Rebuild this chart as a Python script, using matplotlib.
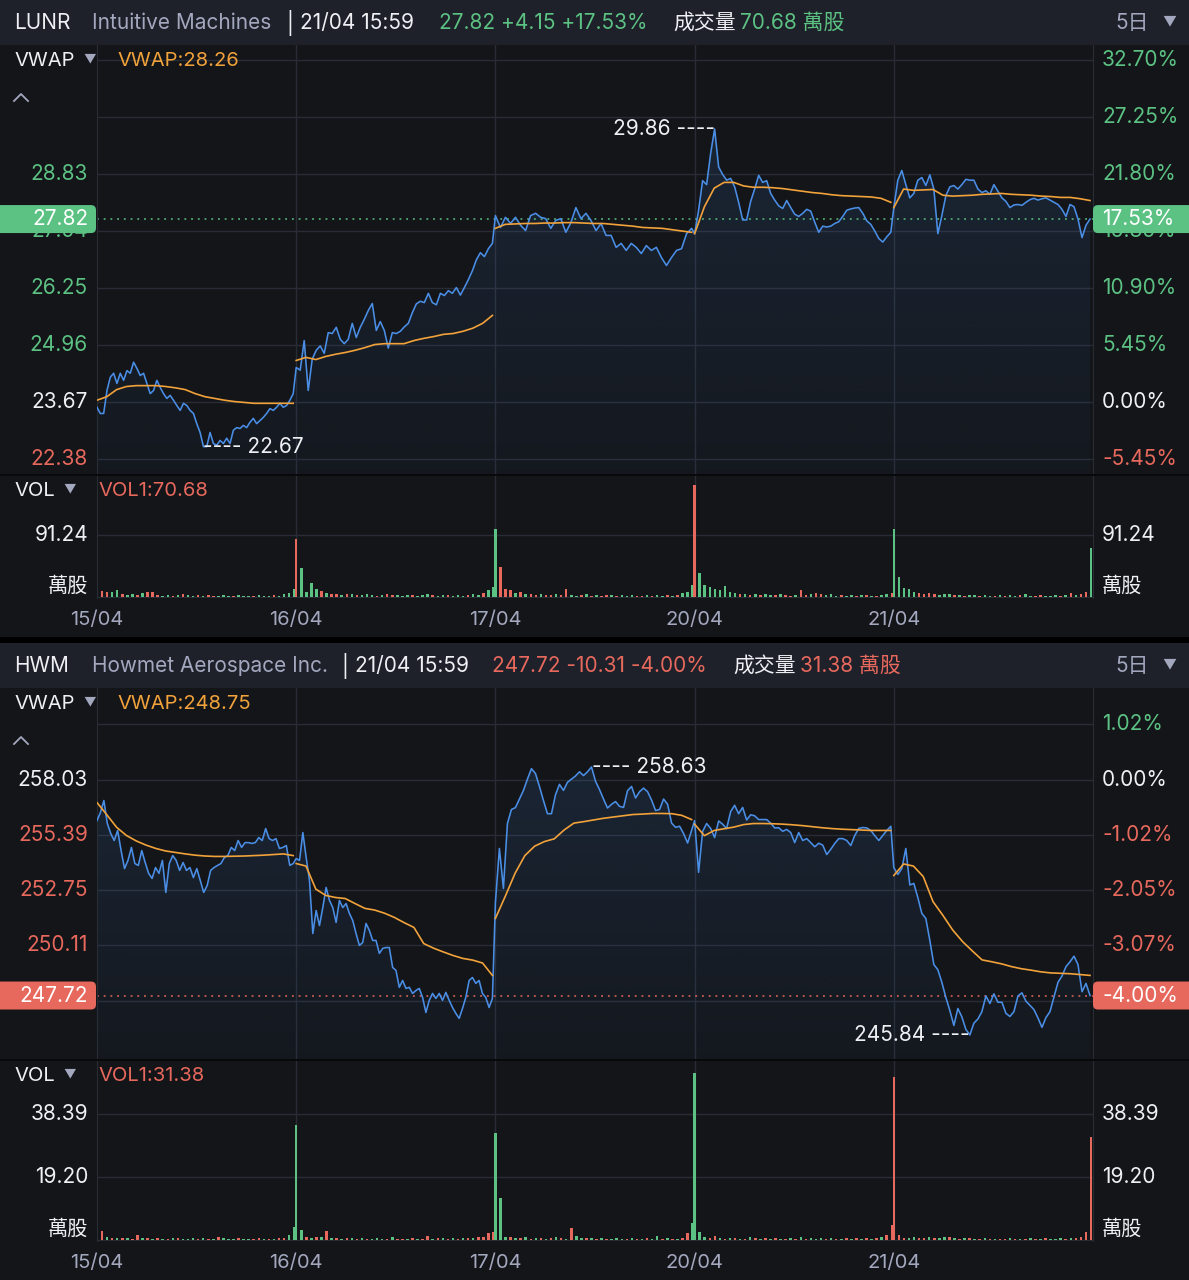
import numpy as np
import matplotlib
matplotlib.use('Agg')
import matplotlib.pyplot as plt
from matplotlib import transforms
from matplotlib.colors import to_rgb
from matplotlib.patches import FancyBboxPatch, Rectangle, Polygon
from matplotlib.lines import Line2D

plt.rcParams['font.family'] = ['Inter', 'Noto Sans CJK TC', 'DejaVu Sans']

W, H = 1189, 1280
BG = '#131519'
HEAD = '#1e212a'
GRID = '#282c35'
GREEN = '#5cc283'
RED = '#e7685c'
ORANGE = '#f2a23a'
BLUE = '#4a8ee6'
WHITE = '#eef0f4'
GREY = '#a4a8bf'

days = ['15/04', '16/04', '17/04', '20/04', '21/04']

# ---------------- LUNR ----------------
lunr_15 = [23.56, 23.42, 23.42, 23.94, 24.24, 24.33, 24.10, 24.33, 24.17, 24.39, 24.33, 24.58, 24.44, 24.28, 24.33,
           24.10, 23.87, 23.94, 24.17, 24.01, 23.87, 23.76, 23.83, 23.72, 23.60, 23.49, 23.65, 23.60, 23.49, 23.42,
           23.19, 22.99, 22.67, 22.67, 22.99, 22.74, 22.70, 22.81, 22.74, 22.86, 22.74, 23.04, 23.10, 23.08, 23.15,
           23.10, 23.22, 23.31, 23.19, 23.26, 23.33, 23.42, 23.53, 23.49, 23.56, 23.65, 23.56, 23.60, 23.72, 23.87]
lunr_16 = [24.46, 24.40, 25.07, 23.94, 24.65, 24.85, 24.95, 24.78, 25.25, 25.23, 25.37, 25.10, 25.00, 25.10, 25.46,
           25.14, 25.37, 25.55, 25.75, 25.91, 25.30, 25.50, 25.30, 24.90, 25.25, 25.23, 25.28, 25.38, 25.46, 25.70,
           25.90, 25.96, 25.93, 26.14, 25.93, 25.88, 26.14, 26.09, 26.20, 26.14, 26.27, 26.10, 26.27, 26.45, 26.65,
           26.90, 27.06, 26.97, 27.15, 27.27]
lunr_17 = [27.90, 27.63, 27.86, 27.72, 27.86, 27.68, 27.56, 27.90, 27.95, 27.86, 27.83, 27.61, 27.79, 27.83, 27.52,
           27.74, 28.08, 27.83, 27.95, 27.79, 27.56, 27.72, 27.45, 27.45, 27.18, 27.27, 27.11, 27.27, 27.18, 27.04,
           27.22, 27.11, 27.18, 26.95, 26.77, 26.95, 27.11, 27.15, 27.49, 27.61]
lunr_20 = [27.49, 28.02, 28.69, 28.60, 29.30, 29.86, 29.00, 28.83, 28.70, 28.74, 28.55, 28.20, 27.80, 27.80, 28.22,
           28.50, 28.81, 28.65, 28.69, 28.40, 28.25, 28.12, 28.06, 28.24, 28.08, 27.93, 27.88, 27.95, 28.04, 28.00,
           27.75, 27.52, 27.66, 27.64, 27.66, 27.72, 27.76, 27.88, 28.02, 28.05, 28.07, 28.08, 27.95, 27.78, 27.70,
           27.55, 27.38, 27.30, 27.42, 27.52]
lunr_21 = [28.08, 28.70, 28.92, 28.60, 28.30, 28.40, 28.70, 28.76, 28.58, 28.82, 28.50, 27.49, 27.90, 28.35, 28.55,
           28.58, 28.50, 28.60, 28.72, 28.70, 28.70, 28.50, 28.42, 28.46, 28.38, 28.60, 28.45, 28.30, 28.22, 28.08,
           28.14, 28.15, 28.13, 28.20, 28.26, 28.29, 28.25, 28.28, 28.30, 28.25, 28.20, 28.15, 28.04, 27.88, 28.15,
           28.10, 27.82, 27.40, 27.68, 27.82]

lunr_vwap_15 = [23.72, 23.80, 23.96, 24.03, 24.05, 24.05, 24.05, 24.03, 24.00, 23.96, 23.87, 23.80, 23.76, 23.72,
                23.69, 23.67, 23.65, 23.65, 23.65, 23.65, 23.65]
lunr_vwap_16 = [24.62, 24.69, 24.64, 24.71, 24.76, 24.80, 24.85, 24.91, 24.98, 25.00, 25.00, 25.00, 25.07, 25.12,
                25.16, 25.21, 25.23, 25.28, 25.35, 25.46, 25.64]
lunr_vwap_17 = [27.61, 27.70, 27.71, 27.72, 27.72, 27.73, 27.73, 27.74, 27.74, 27.73, 27.72, 27.72, 27.70, 27.68,
                27.66, 27.63, 27.62, 27.61, 27.58, 27.55, 27.52]
lunr_vwap_20 = [27.49, 28.10, 28.52, 28.65, 28.65, 28.57, 28.54, 28.54, 28.53, 28.51, 28.48, 28.45, 28.42, 28.40,
                28.37, 28.35, 28.34, 28.33, 28.32, 28.29, 28.20]
lunr_vwap_21 = [28.08, 28.50, 28.47, 28.48, 28.49, 28.36, 28.34, 28.35, 28.36, 28.38, 28.39, 28.40, 28.38, 28.37,
                28.36, 28.34, 28.33, 28.31, 28.31, 28.28, 28.24]

lunr_vol_15 = [20, 9, 7, 8, 10, 5, 3, 4, 3, 6, 7, 7, 3, 2, 3, 2, 3, 4, 3, 2,
               3, 2, 3, 2, 2, 3, 2, 2, 3, 2, 2, 2, 3, 2, 2, 3, 2, 4, 6, 12]
lunr_vol_16 = [85, 43, 8, 20, 12, 9, 6, 5, 4, 3, 4, 5, 3, 3, 4, 3, 2, 3, 4, 3,
               3, 2, 3, 3, 2, 3, 4, 3, 2, 3, 3, 2, 3, 2, 3, 4, 3, 6, 10, 15]
lunr_vol_17 = [100, 44, 12, 10, 6, 8, 5, 4, 3, 4, 3, 3, 4, 3, 12, 3, 2, 3, 4, 2,
               3, 2, 3, 3, 2, 3, 2, 3, 2, 2, 3, 2, 3, 2, 3, 2, 3, 6, 8, 18]
lunr_vol_20 = [165, 35, 18, 15, 12, 10, 16, 8, 6, 5, 4, 3, 4, 3, 5, 3, 3, 4, 3, 2,
               3, 10, 3, 4, 6, 5, 3, 4, 2, 3, 2, 3, 2, 3, 3, 2, 2, 3, 4, 6]
lunr_vol_21 = [100, 29, 13, 12, 8, 6, 5, 6, 4, 3, 5, 4, 3, 3, 2, 3, 3, 2, 3, 2,
               2, 3, 2, 3, 2, 3, 4, 2, 2, 3, 2, 2, 3, 2, 3, 6, 3, 4, 8, 72]
lunr_col_15 = 'grrggrggrg' 'rrrggrgrgg' 'rgrrgggrgg' 'grgggrgggg'
lunr_col_16 = 'rggggrgrrg' 'rgrgggrgrr' 'gggrgggrgg' 'rgggrggrgg'
lunr_col_17 = 'grrrgrgrrg' 'rrgrrggrgr' 'grrgrgggrr' 'grggrgrggg'
lunr_col_20 = 'rggggggggr' 'grgrggrgrr' 'grrgrrgggr' 'ggrgrgrggr'
lunr_col_21 = 'gggggrrrrg' 'ggrgrggrgg' 'rgrggrggrr' 'gggrgrgrrg'

# ---------------- HWM ----------------
hwm_15 = [256.07, 256.46, 257.03, 255.93, 255.45, 255.12, 255.60, 254.64, 253.78, 254.17, 254.79, 254.02, 253.93,
          254.64, 254.07, 253.55, 253.31, 253.83, 253.55, 254.17, 252.64, 254.02, 254.40, 254.17, 253.69, 254.07,
          253.69, 253.83, 253.35, 253.78, 253.21, 252.64, 252.97, 253.69, 253.83, 253.93, 254.02, 254.31, 254.40,
          254.79, 254.64, 255.12, 254.79, 255.02, 255.02, 254.98, 255.02, 255.26, 255.12, 255.69, 255.21, 255.12,
          255.21, 254.74, 254.79, 254.88, 253.93, 254.02]
hwm_16 = [254.26, 254.17, 255.50, 254.31, 253.21, 250.68, 251.78, 251.06, 251.92, 252.88, 252.26, 251.92, 251.21,
          252.26, 251.92, 252.11, 251.64, 251.30, 250.68, 250.11, 250.25, 251.16, 250.83, 250.35, 250.35, 249.73,
          249.97, 250.01, 250.01, 249.06, 248.92, 248.11, 248.44, 248.06, 248.11, 247.82, 247.96, 248.06, 247.63,
          246.91, 247.49, 247.82, 247.58, 247.82, 247.49, 247.87, 247.49, 247.15, 246.87, 246.63, 247.10, 247.63,
          248.44, 248.58, 248.30, 248.44, 247.82, 247.63, 247.15, 247.58]
hwm_17 = [252.16, 254.74, 252.83, 255.93, 256.60, 256.69, 257.10, 257.51, 258.05, 258.55, 258.32, 257.70, 257.03,
          256.40, 256.40, 257.30, 257.80, 257.51, 257.90, 258.05, 258.20, 258.40, 258.22, 258.40, 258.63, 257.95,
          257.55, 257.10, 256.67, 256.85, 256.98, 256.75, 256.70, 257.50, 257.70, 257.15, 257.45, 257.62, 257.45,
          257.05, 256.55, 256.60, 257.10, 256.85, 255.95, 255.75, 255.80, 255.45, 255.00, 255.60]
hwm_20 = [256.07, 253.60, 255.55, 255.93, 255.70, 255.26, 256.05, 255.90, 255.69, 256.50, 256.80, 256.40, 256.70,
          256.10, 256.35, 256.30, 256.12, 256.12, 256.12, 255.95, 255.72, 255.73, 255.56, 255.65, 255.50, 255.02,
          255.50, 255.12, 255.21, 255.02, 254.82, 254.99, 254.90, 254.45, 254.70, 254.98, 255.21, 255.21, 255.12,
          254.88, 255.36, 255.70, 255.74, 255.72, 255.60, 255.35, 255.12, 255.36, 255.60, 255.80]
hwm_21 = [253.83, 253.50, 253.78, 254.74, 253.00, 253.07, 252.40, 251.64, 251.40, 250.35, 249.20, 248.95, 248.35,
          247.63, 247.00, 246.29, 247.10, 246.70, 246.10, 245.84, 246.40, 246.60, 246.95, 247.70, 247.34, 247.80,
          247.40, 247.40, 246.87, 246.72, 246.95, 247.70, 247.85, 247.45, 247.25, 247.05, 246.65, 246.20, 246.67,
          246.95, 247.65, 248.35, 248.65, 249.10, 249.33, 249.60, 249.20, 247.90, 248.30, 247.72]

hwm_vwap_15 = [256.93, 256.35, 255.75, 255.36, 255.10, 254.90, 254.74, 254.62, 254.55, 254.48, 254.42, 254.38,
               254.36, 254.36, 254.37, 254.38, 254.40, 254.42, 254.45, 254.48, 254.40]
hwm_vwap_16 = [254.02, 253.90, 252.80, 252.50, 252.40, 252.35, 252.11, 251.88, 251.80, 251.65, 251.45, 251.20,
               250.97, 250.20, 249.98, 249.80, 249.63, 249.49, 249.41, 249.27, 248.68]
hwm_vwap_17 = [251.40, 252.45, 253.55, 254.40, 254.85, 255.07, 255.20, 255.62, 255.95, 256.02, 256.10, 256.18,
               256.24, 256.30, 256.36, 256.38, 256.41, 256.41, 256.40, 256.32, 256.12]
hwm_vwap_20 = [255.90, 255.35, 255.60, 255.68, 255.76, 255.88, 255.93, 255.93, 255.92, 255.90, 255.87, 255.83,
               255.78, 255.73, 255.69, 255.66, 255.64, 255.62, 255.60, 255.60, 255.60]
hwm_vwap_21 = [253.45, 254.00, 253.90, 253.40, 252.20, 251.55, 250.85, 250.30, 249.85, 249.42, 249.33, 249.23,
               249.10, 249.00, 248.93, 248.85, 248.80, 248.78, 248.76, 248.72, 248.68]

hwm_vol_15 = [3.4, 2.7, 0.8, 0.6, 0.5, 0.7, 0.5, 0.4, 1.5, 0.5, 0.6, 0.4, 0.5, 0.3, 0.4, 0.6, 0.5, 0.4, 0.3, 0.5,
              0.4, 0.5, 0.3, 0.4, 1.0, 0.5, 0.3, 0.4, 0.5, 0.3, 0.4, 0.3, 0.5, 0.4, 0.3, 0.4, 0.5, 0.6, 1.5, 4.0]
hwm_vol_16 = [35, 3, 1.0, 0.6, 1.0, 0.8, 2.7, 0.6, 0.5, 0.4, 0.6, 0.5, 0.4, 0.5, 0.3, 0.4, 0.5, 0.4, 0.3, 0.8,
              0.4, 0.3, 0.4, 0.5, 0.4, 0.3, 1.3, 0.4, 0.5, 0.7, 0.4, 0.5, 0.3, 0.6, 0.5, 0.7, 0.8, 1.0, 2.0, 2.5]
hwm_vol_17 = [32.6, 12.8, 1.0, 0.8, 0.6, 0.5, 0.8, 0.4, 0.5, 0.6, 0.4, 0.5, 0.8, 0.5, 0.4, 3.7, 1.2, 0.6, 0.6, 0.5,
              0.4, 0.5, 0.3, 0.4, 0.5, 0.3, 0.4, 0.5, 0.4, 0.3, 0.5, 0.4, 1.2, 0.4, 0.5, 0.3, 0.4, 0.6, 2.0, 5.2]
hwm_vol_20 = [51, 2.4, 0.8, 0.5, 1.2, 0.6, 0.4, 0.5, 0.6, 0.4, 0.3, 1.0, 0.5, 0.4, 0.6, 0.3, 0.5, 0.4, 0.3, 0.5,
              0.4, 0.8, 0.4, 0.5, 0.3, 0.6, 0.4, 0.5, 0.4, 0.3, 0.5, 0.4, 0.6, 0.3, 0.5, 0.4, 0.6, 0.8, 1.5, 4.6]
hwm_vol_21 = [49.7, 1.5, 0.6, 0.5, 0.8, 0.6, 0.5, 1.0, 0.6, 0.5, 0.8, 1.0, 0.5, 0.4, 0.6, 0.5, 0.4, 0.3, 0.5, 0.4,
              0.3, 0.4, 0.3, 0.5, 0.4, 0.3, 0.4, 0.5, 0.3, 0.4, 0.5, 0.3, 0.4, 0.5, 0.4, 0.5, 0.6, 0.8, 2.4, 31.4]
hwm_col_15 = 'grgrgrgrrg' 'rgrgrgrggg' 'rgrgrgggrg' 'grrgrgrrgg'
hwm_col_16 = 'ggrgrgrgrg' 'rgrgrgggrg' 'rrgrgrrgrg' 'rgrgrgrrrr'
hwm_col_17 = 'gggrgrgrgr' 'grgrgrggrg' 'rgrgggrgrg' 'rggrgrgrrg'
hwm_col_20 = 'gggrrgrgrg' 'rgrgrgrgrg' 'rgrgggrgrg' 'rgrgrgrgrr'
hwm_col_21 = 'rrrggrrgrg' 'grgrgrgrgr' 'grrgrgrgrg' 'rgggrgrrrr'

# tick levels (grid rows, left labels, right labels)
lunr_grid = [22.38, 23.67, 24.96, 26.25, 27.54, 28.83, 30.12, 31.41]
lunr_left = [22.38, 23.67, 24.96, 26.25, 27.54, 28.83]
lunr_right = lunr_grid
lunr_vol_ticks = [91.24]
hwm_grid = [247.47, 250.11, 252.75, 255.39, 258.03, 260.67]
hwm_left = [250.11, 252.75, 255.39, 258.03]
hwm_right = [250.11, 252.75, 255.39, 258.03, 260.67]
hwm_vol_ticks = [19.20, 38.39]

fig = plt.figure(figsize=(W / 100, H / 100), dpi=100, facecolor=BG)
IDT = transforms.IdentityTransform()


def rect(x0, y0, x1, y1):
    return [x0 / W, 1 - y1 / H, (x1 - x0) / W, (y1 - y0) / H]


def ftext(x, y, s, **kw):
    kw.setdefault('va', 'center')
    kw.setdefault('ha', 'left')
    fig.text(x / W, 1 - y / H, s, **kw)


def band(y0, y1, color):
    fig.patches.append(Rectangle((0, 1 - y1 / H), 1, (y1 - y0) / H, transform=fig.transFigure,
                                 facecolor=color, edgecolor='none', zorder=0.5))


def level_color(v, prev):
    if abs(v - prev) < 0.005:
        return WHITE
    return GREEN if v > prev else RED


def style_ax(ax):
    ax.set_facecolor('none')
    for s in ['top', 'bottom']:
        ax.spines[s].set_visible(False)
    for s in ['left', 'right']:
        ax.spines[s].set_color(GRID)
    ax.set_xticks([])
    ax.set_yticks([])
    ax.set_xlim(0, 5)
    for d in range(1, 5):
        ax.axvline(d, color=GRID, lw=1, zorder=0)


def draw_panel(top, header, price_days, vwap_days, vol_days, col_days, prev, last, ylim, vlim,
               grid, left, right, vol_ticks, hi_side, lo_side, vwap_txt, vol_txt, color_now):
    y_head = top
    y_p0, y_p1 = top + 45, top + 45 + ylim[2]
    y_v0, y_v1 = y_p1 + 2, y_p1 + 2 + vlim[2]

    band(y_head, y_head + 45, HEAD)
    band(y_p1, y_p1 + 2, '#08090b')

    # header
    for s, x, c in header:
        ftext(x, y_head + 23, s, color=c, fontsize=15)
    ftext(1115, y_head + 23, '5日', color=GREY, fontsize=15)
    ftext(1162, y_head + 21, '▼', color=GREY, fontsize=10)

    # price axes
    ax = fig.add_axes(rect(97, y_p0, 1093, y_p1))
    style_ax(ax)
    xs, ys = [], []
    for d, vals in enumerate(price_days):
        n = len(vals)
        xs.append(d + np.arange(n) / (n - 1) * 0.985)
        ys.append(np.asarray(vals, dtype=float))
    x = np.concatenate(xs)
    y = np.concatenate(ys)
    y_lo, y_hi = ylim[0], ylim[1]

    poly = Polygon(np.column_stack([np.r_[x[0], x, x[-1]], np.r_[y_lo, y, y_lo]]),
                   closed=True, facecolor='none', edgecolor='none')
    ax.add_patch(poly)
    grad = np.zeros((256, 1, 4))
    grad[..., :3] = to_rgb(BLUE)
    grad[..., 3] = np.linspace(0.16, 0.03, 256)[:, None]
    im = ax.imshow(grad, extent=[0, 5, y_lo, y_hi], aspect='auto', origin='upper', zorder=1)
    im.set_clip_path(poly)

    for v in grid:
        ax.axhline(v, color=GRID, lw=1, zorder=0)
    ax.plot(x, y, color=BLUE, lw=1.15, zorder=3)
    for d, vals in enumerate(vwap_days):
        n = len(vals)
        ax.plot(d + np.arange(n) / (n - 1) * 0.985, vals, color=ORANGE, lw=1.2, zorder=4)
    ax.axhline(last, color=color_now, lw=1.1, ls=(0, (1.2, 3.2)), zorder=2)
    ax.set_xlim(0, 5)
    ax.set_ylim(y_lo, y_hi)

    # extreme labels
    i_hi, i_lo = np.argmax(y), np.argmin(y)
    for i, side in [(i_hi, hi_side), (i_lo, lo_side)]:
        s = f'{y[i]:.2f} ----' if side == 'right' else f'---- {y[i]:.2f}'
        ax.text(x[i], y[i], s, ha=side, va='center', color=WHITE, fontsize=15, zorder=6)

    # axis labels
    bl = transforms.blended_transform_factory(ax.transAxes, ax.transData)
    tr_l = transforms.offset_copy(bl, fig=fig, x=-9, y=0, units='dots')
    tr_r = transforms.offset_copy(bl, fig=fig, x=9, y=0, units='dots')
    for v in left:
        ax.text(0, v, f'{v:.2f}', transform=tr_l, ha='right', va='center',
                color=level_color(v, prev), fontsize=15, clip_on=False)
    for v in right:
        pct = (v / prev - 1) * 100
        ax.text(1, v, f'{pct:.2f}%', transform=tr_r, ha='left', va='center',
                color=level_color(v, prev), fontsize=15, clip_on=False)

    # current price boxes
    yc = ax.transData.transform((0, last))[1]
    pct_now = (last / prev - 1) * 100
    fig.patches.append(FancyBboxPatch((-6, yc - 14), 102, 28, boxstyle='round,pad=0,rounding_size=5',
                                      transform=IDT, facecolor=color_now, edgecolor='none', zorder=2))
    fig.patches.append(FancyBboxPatch((1093, yc - 14), 110, 28, boxstyle='round,pad=0,rounding_size=5',
                                      transform=IDT, facecolor=color_now, edgecolor='none', zorder=2))
    fig.text(88, yc, f'{last:.2f}', transform=IDT, ha='right', va='center', color='white', fontsize=15, zorder=4)
    fig.text(1102, yc, f'{pct_now:.2f}%', transform=IDT, ha='left', va='center', color='white', fontsize=15, zorder=4)

    # legend row
    ftext(14, y_p0 + 16, 'VWAP', color=WHITE, fontsize=14.5)
    ftext(83, y_p0 + 14, '▼', color=GREY, fontsize=9)
    ftext(117, y_p0 + 16, vwap_txt, color=ORANGE, fontsize=14.5)
    cy = H - (y_p0 + 52)
    fig.lines.append(Line2D([14, 21, 28], [cy - 4, cy + 3, cy - 4], transform=IDT, color=GREY, lw=1.3))

    # volume axes
    av = fig.add_axes(rect(97, y_v0, 1093, y_v1))
    style_ax(av)
    for v in vol_ticks:
        av.axhline(v, color=GRID, lw=1, zorder=0)
    av.axhline(0, color=GRID, lw=1, zorder=0)
    for d, (vals, cols) in enumerate(zip(vol_days, col_days)):
        n = len(vals)
        bx = d + np.arange(n) / (n - 1) * 0.99
        av.bar(bx, vals, width=0.99 / (n - 1) * 0.5,
               color=[GREEN if c == 'g' else RED for c in cols], zorder=2)
    av.set_xlim(0, 5)
    av.set_ylim(vlim[0], vlim[1])
    bv = transforms.blended_transform_factory(av.transAxes, av.transData)
    for v in vol_ticks:
        av.text(0, v, f'{v:.2f}', transform=transforms.offset_copy(bv, fig=fig, x=-9, y=0, units='dots'),
                ha='right', va='center', color=WHITE, fontsize=15, clip_on=False)
        av.text(1, v, f'{v:.2f}', transform=transforms.offset_copy(bv, fig=fig, x=9, y=0, units='dots'),
                ha='left', va='center', color=WHITE, fontsize=15, clip_on=False)
    av.text(0, 0, '萬股', transform=transforms.offset_copy(bv, fig=fig, x=-9, y=1, units='dots'),
            ha='right', va='bottom', color=WHITE, fontsize=14.5, clip_on=False)
    av.text(1, 0, '萬股', transform=transforms.offset_copy(bv, fig=fig, x=9, y=1, units='dots'),
            ha='left', va='bottom', color=WHITE, fontsize=14.5, clip_on=False)
    bd = transforms.blended_transform_factory(av.transData, av.transAxes)
    for d, lab in enumerate(days):
        av.text(d, 0, lab, transform=transforms.offset_copy(bd, fig=fig, x=0, y=-22, units='dots'),
                ha='center', va='center', color=GREY, fontsize=14.5, clip_on=False)
    ftext(14, y_v0 + 15, 'VOL', color=WHITE, fontsize=14.5)
    ftext(63, y_v0 + 13, '▼', color=GREY, fontsize=9)
    ftext(98, y_v0 + 15, vol_txt, color=RED, fontsize=14.5)


draw_panel(0,
           [('LUNR', 14, WHITE), ('Intuitive Machines', 92, GREY), ('|', 286, WHITE),
            ('21/04 15:59', 300, WHITE), ('27.82 +4.15 +17.53%', 439, GREEN),
            ('成交量', 673, WHITE), ('70.68 萬股', 740, GREEN)],
           [lunr_15, lunr_16, lunr_17, lunr_20, lunr_21],
           [lunr_vwap_15, lunr_vwap_16, lunr_vwap_17, lunr_vwap_20, lunr_vwap_21],
           [lunr_vol_15, lunr_vol_16, lunr_vol_17, lunr_vol_20, lunr_vol_21],
           [lunr_col_15, lunr_col_16, lunr_col_17, lunr_col_20, lunr_col_21],
           23.67, 27.82, (22.05, 31.76, 429), (-1.5, 178, 122),
           lunr_grid, lunr_left, lunr_right, lunr_vol_ticks, 'right', 'left',
           'VWAP:28.26', 'VOL1:70.68', GREEN)

band(637, 643, '#000000')

draw_panel(643,
           [('HWM', 14, WHITE), ('Howmet Aerospace Inc.', 92, GREY), ('|', 341, WHITE),
            ('21/04 15:59', 355, WHITE), ('247.72 -10.31 -4.00%', 492, RED),
            ('成交量', 733, WHITE), ('31.38 萬股', 800, RED)],
           [hwm_15, hwm_16, hwm_17, hwm_20, hwm_21],
           [hwm_vwap_15, hwm_vwap_16, hwm_vwap_17, hwm_vwap_20, hwm_vwap_21],
           [hwm_vol_15, hwm_vol_16, hwm_vol_17, hwm_vol_20, hwm_vol_21],
           [hwm_col_15, hwm_col_16, hwm_col_17, hwm_col_20, hwm_col_21],
           258.03, 247.72, (244.69, 262.40, 371), (-0.3, 54.6, 180),
           hwm_grid, hwm_left, hwm_right, hwm_vol_ticks, 'left', 'right',
           'VWAP:248.75', 'VOL1:31.38', RED)

fig.savefig('out.png', dpi=100, facecolor=BG)
